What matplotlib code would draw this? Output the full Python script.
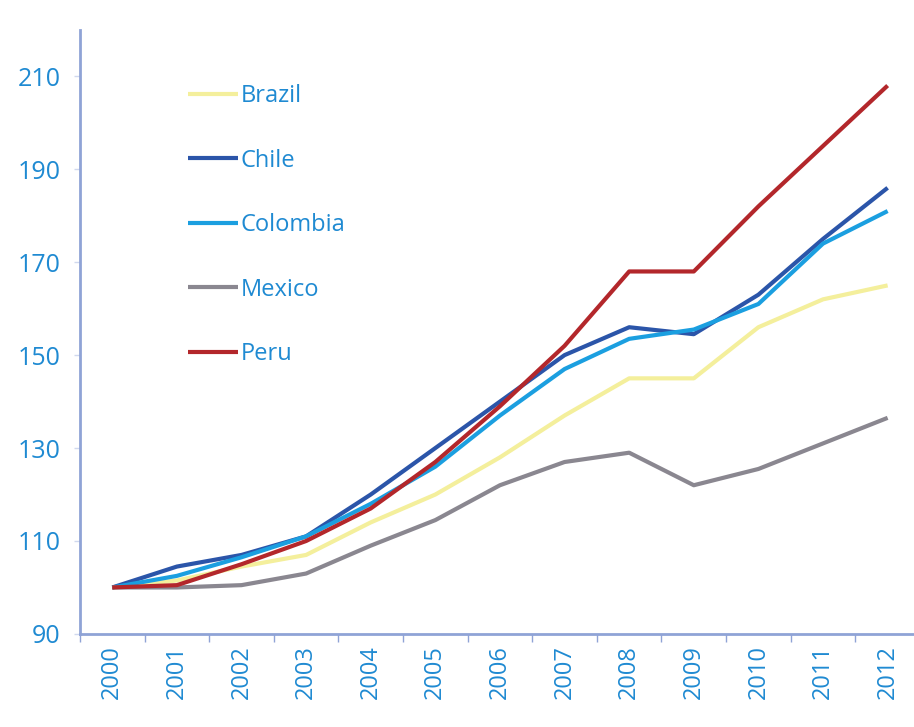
import numpy as np
import matplotlib.pyplot as plt

years = [str(y) for y in range(2000, 2013)]

brazil = [100, 101.5, 104.5, 107, 114, 120, 128, 137, 145, 145, 156, 162, 165]
chile = [100, 104.5, 107, 111, 120, 130, 140, 150, 156, 154.5, 163, 175, 186]
colombia = [100, 102.5, 106.5, 111, 118, 126, 137, 147, 153.5, 155.5, 161, 174, 181]
mexico = [100, 100, 100.5, 103, 109, 114.5, 122, 127, 129, 122, 125.5, 131, 136.5]
peru = [100, 100.5, 105, 110, 117, 127, 139, 152, 168, 168, 182, 195, 208]

series = [
    ("Brazil", brazil, "#f4ef9c"),
    ("Chile", chile, "#2b55a9"),
    ("Colombia", colombia, "#1b9fe0"),
    ("Mexico", mexico, "#8a8790"),
    ("Peru", peru, "#b3272b"),
]

text_blue = "#1f8ad2"
axis_blue = "#8fa3d6"

plt.rcParams['font.family'] = ['Open Sans', 'DejaVu Sans']

fig = plt.figure(figsize=(9.14, 7.27), dpi=100)
ax = fig.add_axes([0.0875, 0.128, 0.919, 0.831])

x = np.arange(len(years))
for name, vals, col in series:
    ax.plot(x, vals, color=col, lw=3, label=name, solid_capstyle='butt')

ax.set_xlim(-0.5, 12.5)
ax.set_ylim(90, 220)
ax.set_yticks(np.arange(90, 211, 20))

# category labels centred, tick marks on the boundaries
ax.set_xticks(x)
ax.set_xticklabels(years, rotation=90, color=text_blue, fontsize=17)
ax.set_xticks(np.arange(-0.5, 12.6, 1), minor=True)
ax.tick_params(axis='x', which='major', length=0, pad=8)
ax.tick_params(axis='x', which='minor', length=6, width=1, color=axis_blue)
ax.tick_params(axis='y', length=4, width=1, color="#d0d8ee", labelcolor=text_blue,
               labelsize=18, pad=10)

for side in ['top', 'right']:
    ax.spines[side].set_visible(False)
ax.spines['left'].set_color(axis_blue)
ax.spines['left'].set_linewidth(2)
ax.spines['bottom'].set_color(axis_blue)
ax.spines['bottom'].set_linewidth(2)

leg = ax.legend(loc='upper left', bbox_to_anchor=(0.115, 0.93), frameon=False,
                fontsize=17, handlelength=2.1, handletextpad=0.1,
                labelspacing=1.72, borderpad=0)
for t in leg.get_texts():
    t.set_color(text_blue)

fig.savefig('out.png', dpi=100)
